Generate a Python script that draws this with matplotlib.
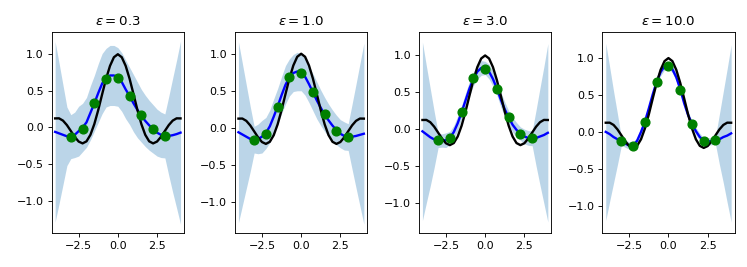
import numpy as np
import matplotlib
matplotlib.use("Agg")
import matplotlib.pyplot as plt

# grid of x positions (step 0.25 from -4 to 4)
x_grid = [-4.0, -3.75, -3.5, -3.25, -3.0, -2.75, -2.5, -2.25, -2.0, -1.75, -1.5,
          -1.25, -1.0, -0.75, -0.5, -0.25, 0.0, 0.25, 0.5, 0.75, 1.0, 1.25, 1.5,
          1.75, 2.0, 2.25, 2.5, 2.75, 3.0, 3.25, 3.5, 3.75, 4.0]

# true function (black)
true_f = [0.124, 0.125, 0.094, 0.033, -0.047, -0.128, -0.192, -0.217, -0.189, -0.100, 0.047,
          0.239, 0.455, 0.665, 0.841, 0.959, 1.0, 0.959, 0.841, 0.665, 0.455, 0.239, 0.047,
          -0.100, -0.189, -0.217, -0.192, -0.128, -0.047, 0.033, 0.094, 0.125, 0.124]

eps_labels = ["0.3", "1.0", "3.0", "10.0"]

# observed points (green)
x_obs = [-3.0, -2.25, -1.5, -0.75, 0.0, 0.75, 1.5, 2.25, 3.0]
y_obs = [
    [-0.127, -0.018, 0.336, 0.668, 0.677, 0.432, 0.168, -0.018, -0.114],
    [-0.160, -0.077, 0.280, 0.680, 0.740, 0.490, 0.180, -0.040, -0.127],
    [-0.150, -0.126, 0.226, 0.690, 0.820, 0.546, 0.167, -0.063, -0.122],
    [-0.126, -0.185, 0.135, 0.677, 0.890, 0.573, 0.113, -0.122, -0.113],
]

# posterior mean (blue)
mean = [
    [-0.06, -0.08, -0.10, -0.12, -0.125, -0.10, -0.05, 0.00, 0.07, 0.20, 0.33,
     0.47, 0.60, 0.68, 0.71, 0.71, 0.69, 0.62, 0.52, 0.43, 0.33, 0.24, 0.16,
     0.09, 0.03, -0.02, -0.07, -0.10, -0.115, -0.115, -0.105, -0.09, -0.07],
    [-0.06, -0.09, -0.12, -0.15, -0.16, -0.15, -0.12, -0.07, 0.02, 0.15, 0.29,
     0.44, 0.58, 0.68, 0.74, 0.76, 0.75, 0.69, 0.59, 0.48, 0.37, 0.27, 0.18,
     0.10, 0.03, -0.03, -0.08, -0.11, -0.125, -0.12, -0.11, -0.095, -0.08],
    [-0.03, -0.07, -0.11, -0.14, -0.15, -0.155, -0.15, -0.12, -0.04, 0.08, 0.23,
     0.39, 0.55, 0.68, 0.78, 0.83, 0.83, 0.78, 0.68, 0.55, 0.40, 0.27, 0.16,
     0.06, -0.01, -0.06, -0.10, -0.12, -0.125, -0.12, -0.10, -0.08, -0.05],
    [0.00, -0.03, -0.07, -0.10, -0.13, -0.16, -0.185, -0.185, -0.12, 0.00, 0.14,
     0.32, 0.51, 0.68, 0.81, 0.89, 0.90, 0.85, 0.74, 0.58, 0.39, 0.23, 0.11,
     0.01, -0.07, -0.12, -0.13, -0.125, -0.115, -0.10, -0.07, -0.05, -0.02],
]

# half width of the uncertainty band
half_width = [
    [1.23, 0.96, 0.68, 0.40, 0.30, 0.31, 0.34, 0.33, 0.34, 0.37, 0.38,
     0.40, 0.41, 0.40, 0.41, 0.41, 0.40, 0.40, 0.40, 0.39, 0.39, 0.38, 0.36,
     0.35, 0.34, 0.33, 0.32, 0.31, 0.30, 0.54, 0.78, 1.01, 1.25],
    [1.22, 0.96, 0.70, 0.44, 0.18, 0.20, 0.22, 0.21, 0.22, 0.24, 0.24,
     0.25, 0.26, 0.25, 0.25, 0.26, 0.25, 0.25, 0.25, 0.25, 0.25, 0.24, 0.23,
     0.22, 0.21, 0.20, 0.19, 0.19, 0.18, 0.44, 0.70, 0.96, 1.22],
    [1.21, 0.93, 0.66, 0.38, 0.10, 0.09, 0.10, 0.09, 0.09, 0.10, 0.09,
     0.10, 0.10, 0.09, 0.10, 0.10, 0.09, 0.10, 0.10, 0.09, 0.10, 0.10, 0.09,
     0.10, 0.10, 0.09, 0.10, 0.10, 0.10, 0.38, 0.66, 0.93, 1.21],
    [1.20, 0.91, 0.62, 0.34, 0.05, 0.05, 0.05, 0.04, 0.05, 0.05, 0.04,
     0.05, 0.05, 0.04, 0.05, 0.05, 0.04, 0.05, 0.05, 0.04, 0.05, 0.05, 0.04,
     0.05, 0.05, 0.04, 0.05, 0.05, 0.05, 0.34, 0.62, 0.91, 1.20],
]

ylims = [(-1.44, 1.31), (-1.42, 1.30), (-1.41, 1.325), (-1.37, 1.36)]

plt.rcParams['font.size'] = 8
plt.rcParams['xtick.major.size'] = 2.8
plt.rcParams['ytick.major.size'] = 2.8
plt.rcParams['xtick.major.width'] = 0.64
plt.rcParams['ytick.major.width'] = 0.64
plt.rcParams['axes.linewidth'] = 0.64
plt.rcParams['xtick.major.pad'] = 2.8
plt.rcParams['ytick.major.pad'] = 2.8

fig = plt.figure(figsize=(7.47, 2.67), dpi=100)
lefts = [0.0692, 0.3146, 0.5609, 0.8063]
xg = np.array(x_grid)
for i in range(4):
    ax = fig.add_axes([lefts[i], 0.1273, 0.1771, 0.7547])
    m = np.array(mean[i])
    hw = np.array(half_width[i])
    ax.fill_between(xg, m - hw, m + hw, color='C0', alpha=0.3, lw=0)
    ax.plot(xg, m, color='b', lw=1.7)
    ax.plot(xg, true_f, color='k', lw=1.7)
    ax.plot(x_obs, y_obs[i], 'o', color='g', ms=6.3)
    ax.set_xlim(-4.22, 4.22)
    ax.set_ylim(*ylims[i])
    ax.set_xticks([-2.5, 0.0, 2.5])
    ax.set_yticks([-1.0, -0.5, 0.0, 0.5, 1.0])
    ax.set_title(r'$\varepsilon = ' + eps_labels[i] + '$', fontsize=9.6, pad=4.8)

fig.savefig('out.png', dpi=100)
